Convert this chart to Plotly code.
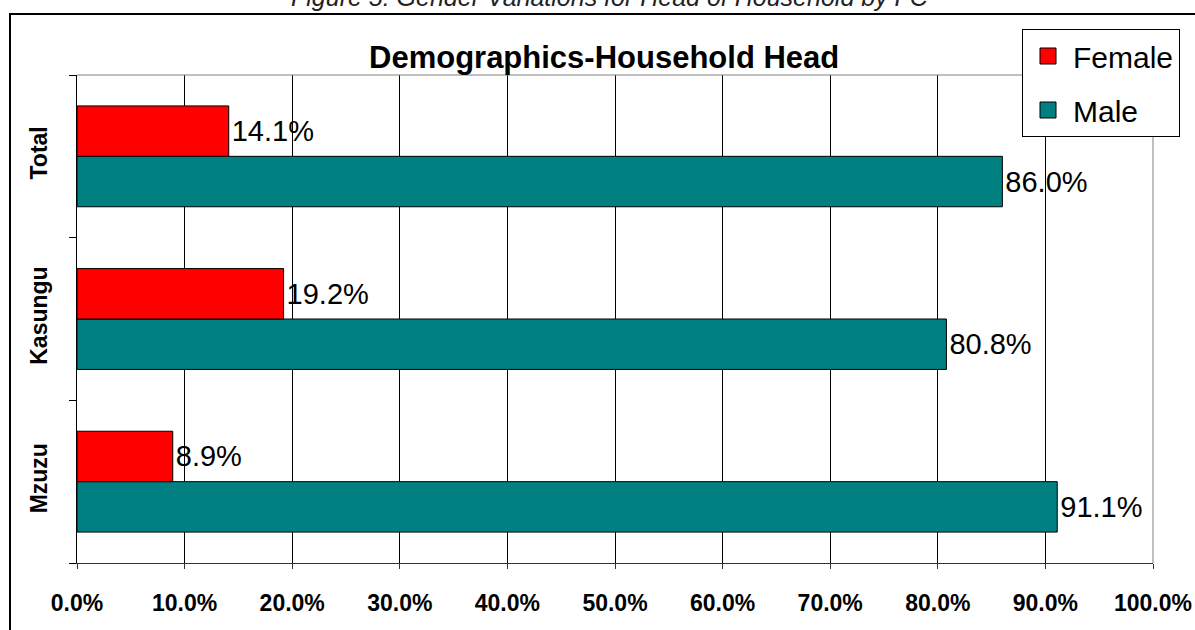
import plotly.graph_objects as go

# ---- data ----
categories = ["Mzuzu", "Kasungu", "Total"]          # bottom -> top
female_pct = [8.9, 19.2, 14.1]
male_pct = [91.1, 80.8, 86.0]
series_names = ["Female", "Male"]
x_ticks = [0, 10, 20, 30, 40, 50, 60, 70, 80, 90, 100]
x_tick_labels = [f"{v:.1f}%" for v in x_ticks]

RED = "#FF0000"
TEAL = "#008080"
FONT = "Liberation Sans, Arial, sans-serif"

W, H = 1195, 630
L, R, T, B = 77, 42, 75, 67
PW, PH = W - L - R, H - T - B


def px_x(px):
    return (px - L) / PW


def px_y(py):
    return (H - B - py) / PH


fig = go.Figure()

# Male first -> lower bar within each group; Female on top
fig.add_trace(go.Bar(
    name=series_names[1], y=categories, x=male_pct, orientation="h",
    marker=dict(color=TEAL, line=dict(color="black", width=1)),
    texttemplate="%{x:.1f}%", textposition="outside", constraintext="none",
    textfont=dict(family=FONT, size=29, color="black"),
    cliponaxis=False, showlegend=False, hoverinfo="x+name",
))
fig.add_trace(go.Bar(
    name=series_names[0], y=categories, x=female_pct, orientation="h",
    marker=dict(color=RED, line=dict(color="black", width=1)),
    texttemplate="%{x:.1f}%", textposition="outside", constraintext="none",
    textfont=dict(family=FONT, size=29, color="black"),
    cliponaxis=False, showlegend=False, hoverinfo="x+name",
))

# legend entries
for name, col, grp in [(series_names[0], RED, "f"), (series_names[1], TEAL, "m")]:
    fig.add_trace(go.Scatter(
        x=[None], y=[None], mode="markers", name=name, legendgroup=grp,
        marker=dict(symbol="square", size=19, color=col,
                    line=dict(color="black", width=1)),
        showlegend=True,
    ))

fig.update_layout(
    width=W, height=H,
    margin=dict(l=L, r=R, t=T, b=B, autoexpand=False),
    paper_bgcolor="white", plot_bgcolor="white",
    barmode="group", bargap=0.38, bargroupgap=0,
    font=dict(family=FONT, color="black"),
    showlegend=True,
    legend=dict(
        x=px_x(1022), y=px_y(29), xanchor="left", yanchor="top",
        bgcolor="white", bordercolor="black", borderwidth=1,
        font=dict(family=FONT, size=30, color="black"),
        tracegroupgap=12, itemwidth=40,
    ),
    xaxis=dict(
        range=[0, 100], tickvals=x_ticks, ticktext=x_tick_labels,
        showgrid=True, gridcolor="black", gridwidth=1,
        showline=True, linecolor="#333333", linewidth=1,
        ticks="outside", ticklen=5, tickcolor="#333333",
        tickfont=dict(family=FONT, size=23, color="black", weight="bold"),
        ticklabelstandoff=14, zeroline=False, fixedrange=True,
    ),
    yaxis=dict(
        type="category", categoryorder="array", categoryarray=categories,
        tickson="boundaries", ticks="outside", ticklen=7, tickcolor="black",
        showgrid=False, showline=True, linecolor="black", linewidth=1,
        tickangle=-90,
        tickfont=dict(family=FONT, size=23, color="black", weight="bold"),
        ticklabelstandoff=20, fixedrange=True,
    ),
    shapes=[
        # outer chart frame (extends past the window)
        dict(type="rect", xref="paper", yref="paper",
             x0=px_x(10), x1=px_x(1210), y0=px_y(650), y1=px_y(14),
             line=dict(color="black", width=2), fillcolor="rgba(0,0,0,0)",
             layer="below"),
        # top and right plot border in grey
        dict(type="line", xref="paper", yref="paper", x0=0, x1=1, y0=1, y1=1,
             line=dict(color="#808080", width=1)),
        dict(type="line", xref="paper", yref="paper", x0=1, x1=1, y0=0, y1=1,
             line=dict(color="#808080", width=1)),
    ],
    annotations=[
        dict(text="<b>Demographics-Household Head</b>", xref="paper", yref="paper",
             x=px_x(604), y=px_y(58), xanchor="center", yanchor="middle",
             showarrow=False, font=dict(family=FONT, size=31, color="black")),
        dict(text="Figure 5: Gender Variations for Head of Household by FC",
             xref="paper", yref="paper",
             x=px_x(610), y=px_y(13), xanchor="center", yanchor="bottom",
             showarrow=False,
             font=dict(family=FONT, size=25, color="#222222", style="italic")),
    ],
)

fig.write_html("out.html")
